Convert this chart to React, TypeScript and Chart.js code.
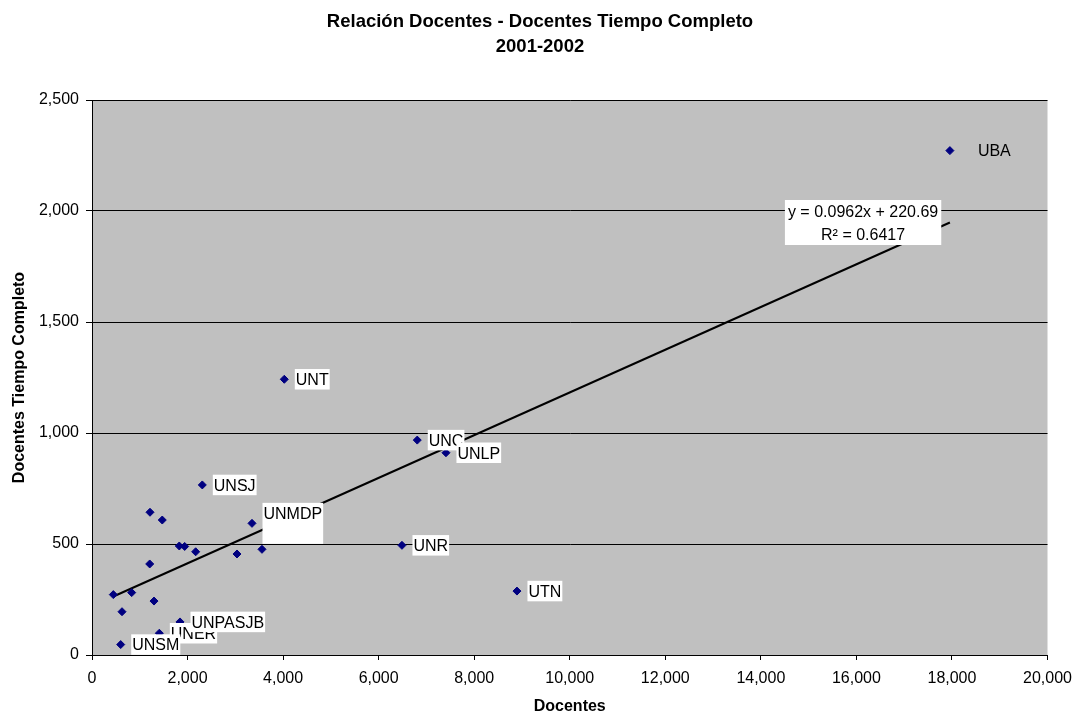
import React, { useEffect, useRef } from "react";
import { Chart, registerables } from "chart.js";

Chart.register(...registerables);

const titulo = ["Relación Docentes - Docentes Tiempo Completo", "2001-2002"];
const tituloX = "Docentes";
const tituloY = "Docentes Tiempo Completo";

const nombres = [
  "", "", "", "", "", "", "", "", "", "", "", "",
  "UNER", "UNPASJB", "UNSM", "UNSJ", "UNMDP\n ", "UNT", "UNC", "UNLP", "UNR", "UTN", "UBA",
];
const docentes = [
  1214, 1471, 1827, 1940, 2170, 3035, 3558, 1208, 446, 831, 1298, 628,
  1409, 1842, 601, 2309, 3349, 4025, 6808, 7409, 6488, 8895, 17957,
];
const docentesTC = [
  643, 608, 491, 489, 465, 455, 476, 410, 272, 281, 243, 195,
  98, 149, 47, 766, 593, 1242, 968, 911, 494, 288, 2272,
];

const ticksX = [0, 2000, 4000, 6000, 8000, 10000, 12000, 14000, 16000, 18000, 20000];
const ticksY = [0, 500, 1000, 1500, 2000, 2500];

const pendiente = 0.0962;
const ordenada = 220.69;
const ecuacion = ["y = 0.0962x + 220.69", "R² = 0.6417"];

const FONT = '"Liberation Sans", Arial, sans-serif';

const decor = {
  id: "decor",
  beforeDraw(chart: any) {
    const { ctx, chartArea: a } = chart;
    ctx.save();
    ctx.fillStyle = "#ffffff";
    ctx.fillRect(0, 0, chart.width, chart.height);
    ctx.fillStyle = "#C0C0C0";
    ctx.fillRect(a.left, a.top, a.right - a.left, a.bottom - a.top);
    ctx.restore();
  },
  afterDatasetsDraw(chart: any) {
    const { ctx } = chart;
    const xs = chart.scales.x;
    const ys = chart.scales.y;
    ctx.save();
    ctx.font = `16px ${FONT}`;
    ctx.textAlign = "left";
    ctx.textBaseline = "alphabetic";
    const lh = 20.5;
    nombres.forEach((n, i) => {
      if (!n) return;
      const px = xs.getPixelForValue(docentes[i]);
      const py = ys.getPixelForValue(docentesTC[i]);
      const lines = n.split("\n");
      const sinFondo = n === "UBA";
      const off = sinFondo ? 27 : 10.5;
      const w = Math.max(...lines.map((l) => ctx.measureText(l).width)) + 2;
      const h = lh * lines.length;
      const bx = px + off;
      const by = py - h / 2;
      if (!sinFondo) {
        ctx.fillStyle = "#ffffff";
        ctx.fillRect(bx, by, w, h);
      }
      ctx.fillStyle = "#000000";
      lines.forEach((l, k) => {
        ctx.fillText(l, bx + 1, by + lh / 2 + 5.8 + k * lh);
      });
    });

    // trendline equation box
    const cx = xs.getPixelForValue(16140);
    const ly = ys.getPixelForValue(2000);
    ctx.textAlign = "center";
    const bw = ctx.measureText(ecuacion[0]).width + 6;
    ctx.fillStyle = "#ffffff";
    ctx.fillRect(cx - bw / 2, ly - 11, bw, 45);
    ctx.fillStyle = "#000000";
    ctx.fillText(ecuacion[0], cx, ly + 5.8);
    ctx.fillText(ecuacion[1], cx, ly + 29);
    ctx.restore();
  },
  afterDraw(chart: any) {
    const { ctx, chartArea: a } = chart;
    ctx.save();
    ctx.fillStyle = "#000000";
    ctx.textAlign = "center";
    ctx.textBaseline = "alphabetic";
    ctx.font = `bold 18.5px ${FONT}`;
    ctx.fillText(titulo[0], 540, 27);
    ctx.fillText(titulo[1], 540, 52);
    ctx.font = `bold 16px ${FONT}`;
    ctx.fillText(tituloX, (a.left + a.right) / 2, 711);
    ctx.translate(24, (a.top + a.bottom) / 2);
    ctx.rotate(-Math.PI / 2);
    ctx.fillText(tituloY, 0, 0);
    ctx.restore();
  },
};

export default function App() {
  const ref = useRef<HTMLCanvasElement>(null);
  useEffect(() => {
    if (!ref.current) return;
    const puntos = docentes.map((x, i) => ({ x, y: docentesTC[i] }));
    const xMin = Math.min(...docentes);
    const xMax = Math.max(...docentes);
    const tendencia = [xMin, xMax].map((x) => ({ x, y: pendiente * x + ordenada }));
    const fmt = (v: any) => Number(v).toLocaleString("en-US");
    const chart = new Chart(ref.current, {
      type: "scatter",
      data: {
        datasets: [
          {
            label: "Docentes Tiempo Completo",
            data: puntos,
            pointStyle: "rectRot",
            pointRadius: 4,
            pointBackgroundColor: "#000080",
            pointBorderColor: "#000080",
            pointBorderWidth: 1,
            showLine: false,
          },
          {
            label: "Tendencia",
            type: "line",
            data: tendencia,
            borderColor: "#000000",
            borderWidth: 2,
            pointRadius: 0,
            fill: false,
          } as any,
        ],
      },
      options: {
        animation: false,
        responsive: true,
        maintainAspectRatio: false,
        devicePixelRatio: 1,
        layout: { padding: { top: 100, left: 0, right: 27.5, bottom: 0 } },
        plugins: {
          legend: { display: false },
          title: { display: false },
          tooltip: { enabled: false },
        },
        scales: {
          x: {
            type: "linear",
            min: 0,
            max: 20000,
            afterFit: (s: any) => {
              s.height = 60;
              s.paddingRight = 0;
              s.paddingLeft = 0;
            },
            afterBuildTicks: (s: any) => {
              s.ticks = ticksX.map((v) => ({ value: v }));
            },
            grid: {
              drawOnChartArea: false,
              drawTicks: true,
              tickLength: 5,
              tickColor: "#000000",
            },
            border: { color: "#000000", width: 1 },
            ticks: {
              color: "#000000",
              font: { family: FONT, size: 16 },
              padding: 9,
              maxRotation: 0,
              callback: fmt,
            },
          },
          y: {
            type: "linear",
            min: 0,
            max: 2500,
            afterFit: (s: any) => {
              s.width = 92;
              s.paddingTop = 0;
              s.paddingBottom = 0;
            },
            afterBuildTicks: (s: any) => {
              s.ticks = ticksY.map((v) => ({ value: v }));
            },
            grid: {
              color: "#000000",
              lineWidth: 1,
              drawTicks: true,
              tickLength: 6,
              tickColor: "#000000",
            },
            border: { color: "#000000", width: 1 },
            ticks: {
              color: "#000000",
              font: { family: FONT, size: 16 },
              padding: 7,
              callback: fmt,
            },
          },
        },
      },
      plugins: [decor],
    });
    return () => chart.destroy();
  }, []);
  return (
    <div style={{ position: "absolute", left: 0, top: 0, width: 1075, height: 715 }}>
      <canvas ref={ref} />
    </div>
  );
}
